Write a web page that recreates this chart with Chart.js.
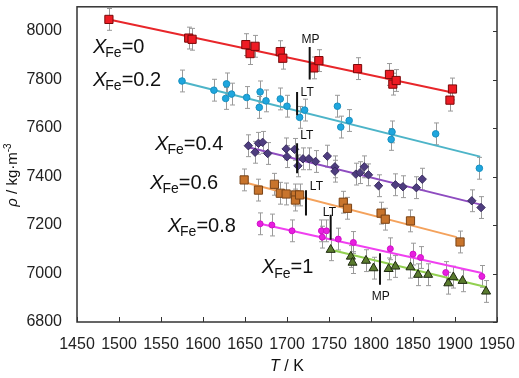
<!DOCTYPE html>
<html>
<head>
<meta charset="utf-8">
<script src="https://cdn.jsdelivr.net/npm/chart.js@4"></script>
<style>
  html, body { margin: 0; padding: 0; background: #fff; }
</style>
</head>
<body>
<canvas id="chart" width="519" height="378"></canvas>
<script>
// measured points, T in K, rho in kg/m3
const T_fe0 = [1488, 1583, 1587, 1651, 1656, 1662, 1692, 1695, 1732, 1738, 1784, 1822, 1826, 1830, 1894, 1897];
const rho_fe0 = [8048, 7971, 7966, 7944, 7907, 7937, 7915, 7888, 7848, 7878, 7845, 7821, 7781, 7796, 7715, 7761];

const T_fe02 = [1575, 1613, 1627, 1628, 1634, 1652, 1668, 1667, 1675, 1692, 1700, 1715, 1721, 1760, 1764, 1774, 1825, 1824, 1877, 1929];
const rho_fe02 = [7794, 7756, 7722, 7782, 7740, 7726, 7749, 7685, 7712, 7720, 7690, 7644, 7674, 7690, 7604, 7631, 7584, 7553, 7576, 7434];

const T_fe04 = [1654, 1662, 1666, 1671, 1677, 1699, 1700, 1709, 1713, 1719, 1726, 1734, 1748, 1757, 1757, 1782, 1787, 1792, 1797, 1809, 1829, 1838, 1854, 1861, 1920, 1931];
const rho_fe04 = [7527, 7500, 7537, 7541, 7495, 7514, 7482, 7512, 7444, 7473, 7473, 7462, 7484, 7440, 7422, 7410, 7416, 7440, 7407, 7362, 7366, 7358, 7354, 7389, 7300, 7272];

const T_fe06 = [1649, 1666, 1685, 1692, 1699, 1710, 1710, 1715, 1767, 1772, 1812, 1817, 1847, 1906];
const rho_fe06 = [7386, 7344, 7368, 7331, 7328, 7324, 7303, 7324, 7294, 7269, 7249, 7224, 7217, 7130];

const T_fe08 = [1668, 1682, 1706, 1741, 1747, 1742, 1761, 1779, 1823, 1850, 1859, 1889, 1932];
const rho_fe08 = [7205, 7200, 7176, 7176, 7176, 7150, 7142, 7128, 7102, 7080, 7066, 7004, 6988];

const T_fe1 = [1752, 1776, 1778, 1794, 1803, 1821, 1829, 1847, 1856, 1868, 1892, 1898, 1909, 1937];
const rho_fe1 = [7098, 7070, 7045, 7053, 7022, 7019, 7029, 7026, 6995, 6995, 6960, 6985, 6970, 6926];

// error bar half-height, kg/m3
const ERR = 45;

// fitted lines: [start, end]
const fitT_fe0 = [1488, 1894], fitRho_fe0 = [8048, 7749];
const fitT_fe02 = [1575, 1930], fitRho_fe02 = [7790, 7482];
const fitT_fe04 = [1654, 1932], fitRho_fe04 = [7521, 7283];
const fitT_fe06 = [1649, 1902], fitRho_fe06 = [7376, 7150];
const fitT_fe08 = [1668, 1932], fitRho_fe08 = [7205, 7002];
const fitT_fe1 = [1752, 1937], fitRho_fe1 = [7098, 6944];

// MP / LT markers: T, rho bottom, rho top, label
const markT = [1727, 1712, 1712, 1722.6, 1752, 1810.7];
const markLo = [7800, 7653, 7414, 7239, 7139, 6954];
const markHi = [7934, 7749, 7537, 7343, 7242, 7084];
const markText = ["MP", "LT", "LT", "LT", "LT", "MP"];

const xTicks = [1450, 1500, 1550, 1600, 1650, 1700, 1750, 1800, 1850, 1900, 1950];
const yTicks = [6800, 7000, 7200, 7400, 7600, 7800, 8000];

const seriesNames = ["0", "0.2", "0.4", "0.6", "0.8", "1"];

const FONT = "'Liberation Sans', Arial, sans-serif";

const series = [
  { T: T_fe0, rho: rho_fe0, fT: fitT_fe0, fR: fitRho_fe0, style: 'rect', r: 5.8, fill: '#ee1c24', border: '#7a0a0a', line: '#e8262a' },
  { T: T_fe02, rho: rho_fe02, fT: fitT_fe02, fR: fitRho_fe02, style: 'circle', r: 3.3, fill: '#1fa6de', border: '#1890c0', line: '#4db4c8' },
  { T: T_fe04, rho: rho_fe04, fT: fitT_fe04, fR: fitRho_fe04, style: 'rectRot', r: 4.2, fill: '#4e3d7f', border: '#3a2c60', line: '#8e4cc0' },
  { T: T_fe06, rho: rho_fe06, fT: fitT_fe06, fR: fitRho_fe06, style: 'rect', r: 5.8, fill: '#c8742c', border: '#7a4316', line: '#f4a25c' },
  { T: T_fe08, rho: rho_fe08, fT: fitT_fe08, fR: fitRho_fe08, style: 'circle', r: 3, fill: '#e81ee0', border: '#d010c8', line: '#f040f0' },
  { T: T_fe1, rho: rho_fe1, fT: fitT_fe1, fR: fitRho_fe1, style: 'triangle', r: 5.2, fill: '#5a7b2e', border: '#1e2a10', line: '#92d050' }
];

const datasets = [];
series.forEach(s => {
  datasets.push({
    type: 'scatter',
    data: s.T.map((t, i) => ({ x: t, y: s.rho[i] })),
    pointStyle: s.style,
    pointRadius: s.r,
    backgroundColor: s.fill,
    borderColor: s.border,
    borderWidth: 1,
    order: 1
  });
  datasets.push({
    type: 'line',
    data: s.fT.map((t, i) => ({ x: t, y: s.fR[i] })),
    borderColor: s.line,
    borderWidth: 2,
    pointRadius: 0,
    fill: false,
    order: 3
  });
});
markT.forEach((t, i) => {
  datasets.push({
    type: 'line',
    data: [{ x: t, y: markLo[i] }, { x: t, y: markHi[i] }],
    borderColor: '#111',
    borderWidth: 2,
    pointRadius: 0,
    order: 0
  });
});

// where the series names and marker labels sit (data coords)
const nameT = [1469, 1469, 1543, 1537, 1558, 1670];
const nameRho = [7933, 7797, 7534, 7373, 7196, 7023];
const markLabelT = [1728, 1724, 1723.5, 1735, 1750.5, 1811.5];
const markLabelRho = [7965, 7744, 7567, 7358, 7249, 6906];

const extras = {
  id: 'extras',
  beforeDatasetsDraw(chart) {
    const { ctx, scales: { x, y } } = chart;
    ctx.save();
    ctx.strokeStyle = '#9a9a9a';
    ctx.lineWidth = 1;
    series.forEach(s => {
      s.T.forEach((t, i) => {
        const px = Math.round(x.getPixelForValue(t)) + 0.5;
        const y1 = y.getPixelForValue(s.rho[i] + ERR);
        const y2 = y.getPixelForValue(s.rho[i] - ERR);
        ctx.beginPath();
        ctx.moveTo(px, y1); ctx.lineTo(px, y2);
        ctx.moveTo(px - 2.5, y1); ctx.lineTo(px + 2.5, y1);
        ctx.moveTo(px - 2.5, y2); ctx.lineTo(px + 2.5, y2);
        ctx.stroke();
      });
    });
    ctx.restore();
  },
  afterDraw(chart) {
    const { ctx, chartArea: a, scales: { x, y } } = chart;
    ctx.save();
    // frame
    ctx.strokeStyle = '#333';
    ctx.lineWidth = 1.5;
    ctx.strokeRect(a.left, a.top, a.right - a.left, a.bottom - a.top);
    // inward ticks
    ctx.lineWidth = 1;
    ctx.beginPath();
    xTicks.forEach(v => {
      const px = Math.round(x.getPixelForValue(v)) + 0.5;
      ctx.moveTo(px, a.bottom); ctx.lineTo(px, a.bottom - 5);
    });
    yTicks.forEach(v => {
      const py = Math.round(y.getPixelForValue(v)) + 0.5;
      ctx.moveTo(a.right, py); ctx.lineTo(a.right - 4, py);
    });
    ctx.stroke();

    // series names: X(italic) + Fe(sub) + =value
    ctx.fillStyle = '#111';
    ctx.textBaseline = 'middle';
    ctx.textAlign = 'left';
    seriesNames.forEach((n, i) => {
      let px = x.getPixelForValue(nameT[i]);
      const py = y.getPixelForValue(nameRho[i]);
      ctx.font = `italic 20px ${FONT}`;
      ctx.fillText('X', px, py);
      px += ctx.measureText('X').width - 1;
      ctx.font = `14px ${FONT}`;
      ctx.fillText('Fe', px, py + 6);
      px += ctx.measureText('Fe').width;
      ctx.font = `20px ${FONT}`;
      ctx.fillText('=' + n, px, py);
    });

    // MP / LT labels
    ctx.font = `12px ${FONT}`;
    ctx.textAlign = 'center';
    markText.forEach((t, i) => {
      ctx.fillText(t, x.getPixelForValue(markLabelT[i]), y.getPixelForValue(markLabelRho[i]));
    });

    // x title
    ctx.font = `italic 16px ${FONT}`;
    ctx.textAlign = 'left';
    const t1 = 'T', t2 = ' / K';
    const w1 = ctx.measureText(t1).width;
    ctx.font = `16px ${FONT}`;
    const w2 = ctx.measureText(t2).width;
    let sx = (a.left + a.right) / 2 - (w1 + w2) / 2;
    ctx.font = `italic 16px ${FONT}`;
    ctx.fillText(t1, sx, 367);
    ctx.font = `16px ${FONT}`;
    ctx.fillText(t2, sx + w1, 367);

    // y title (rotated)
    ctx.translate(13, 175);
    ctx.rotate(-Math.PI / 2);
    ctx.font = `italic 15px ${FONT}`;
    const p1 = 'ρ';
    const q1 = ctx.measureText(p1).width;
    ctx.font = `15px ${FONT}`;
    const p2 = ' / kg·m';
    const q2 = ctx.measureText(p2).width;
    ctx.font = `10px ${FONT}`;
    const q3 = ctx.measureText('-3').width;
    let ox = -(q1 + q2 + q3) / 2;
    ctx.font = `italic 15px ${FONT}`;
    ctx.fillText(p1, ox, 0);
    ctx.font = `15px ${FONT}`;
    ctx.fillText(p2, ox + q1, 0);
    ctx.font = `10px ${FONT}`;
    ctx.fillText('-3', ox + q1 + q2, -5);
    ctx.restore();
  }
};

new Chart(document.getElementById('chart'), {
  data: { datasets },
  options: {
    responsive: false,
    animation: false,
    layout: { padding: { top: 6, right: 22, left: 0, bottom: 0 } },
    plugins: { legend: { display: false }, tooltip: { enabled: false } },
    scales: {
      x: {
        type: 'linear',
        min: 1450, max: 1950,
        afterBuildTicks: axis => { axis.ticks = xTicks.map(v => ({ value: v })); },
        afterFit: axis => { axis.height = 56; axis.paddingLeft = 0; axis.paddingRight = 0; },
        ticks: { font: { size: 16, family: FONT }, color: '#222', padding: 13, maxRotation: 0, autoSkip: false, callback: v => String(v) },
        grid: { display: false, drawTicks: false },
        border: { display: false }
      },
      y: {
        type: 'linear',
        min: 6800, max: 8100,
        afterBuildTicks: axis => { axis.ticks = yTicks.map(v => ({ value: v })); },
        afterFit: axis => { axis.width = 77; axis.paddingTop = 0; axis.paddingBottom = 0; },
        ticks: { font: { size: 16, family: FONT }, color: '#222', padding: 15, callback: v => String(v) },
        grid: { display: false, drawTicks: false },
        border: { display: false }
      }
    }
  },
  plugins: [extras]
});
</script>
</body>
</html>
